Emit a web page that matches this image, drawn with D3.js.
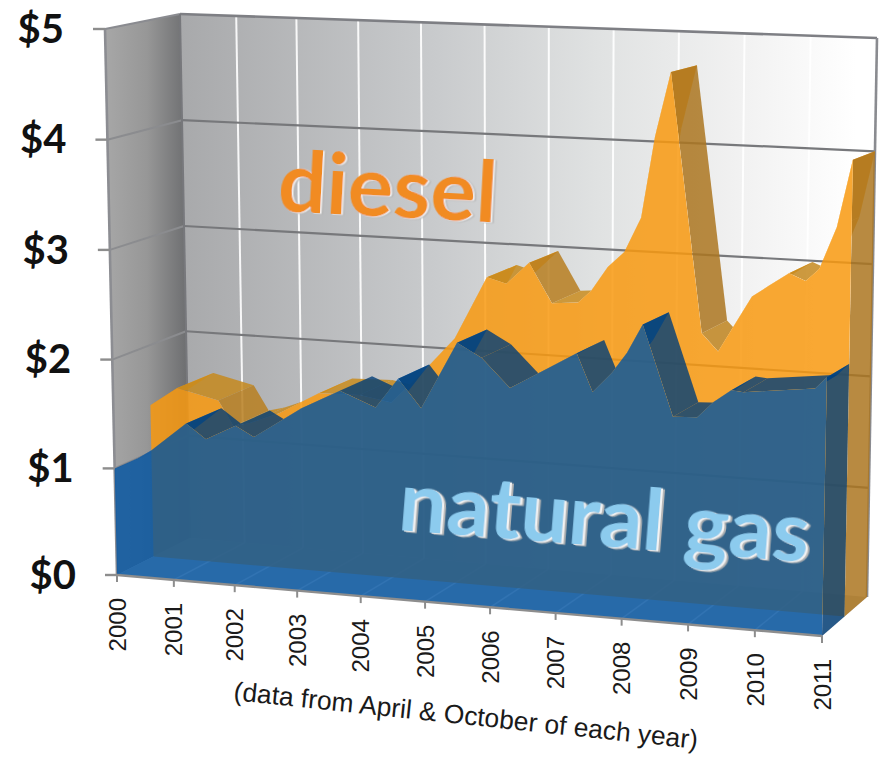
<!DOCTYPE html>
<html><head><meta charset="utf-8">
<script src="https://cdn.jsdelivr.net/npm/d3@7/dist/d3.min.js"></script>
<style>html,body{margin:0;padding:0;background:#fff}svg{display:block}</style>
</head><body><div id="chart"></div>
<script>
const yearTicks=[2000,2001,2002,2003,2004,2005,2006,2007,2008,2009,2010,2011];
const valueTicks=[0,1,2,3,4,5];
const dieselDates=[2000,2000.5,2001.2,2001.45,2001.72,2002.2,2002.85,2003.5,2004,2004.55,2005,2005.5,2005.8,2006.15,2006.5,2006.9,2007.1,2007.35,2007.6,2007.85,2008.05,2008.28,2008.78,2009.03,2009.53,2009.78,2010.08,2010.33,2010.53,2010.78,2011];
const dieselValues=[1.44,1.62,1.53,1.30,1.34,1.45,1.66,1.67,1.62,1.95,2.24,2.81,2.76,2.96,2.61,2.63,2.74,2.96,3.10,3.41,4.13,4.70,2.42,2.27,2.77,2.87,2.99,2.93,3.04,3.41,4.0];
const gasDates=[2000,2000.43,2000.66,2001.25,2001.57,2002.05,2002.34,2003.1,2003.7,2004.25,2004.6,2004.95,2005.5,2005.87,2006.3,2006.77,2007.3,2007.54,2007.83,2008.05,2008.28,2008.74,2009.1,2009.34,2009.6,2009.78,2010.83,2011];
const gasValues=[1.00,1.11,1.19,1.46,1.33,1.47,1.38,1.67,1.85,1.72,1.99,1.74,2.34,2.22,1.97,2.13,2.31,1.98,2.16,2.34,2.59,1.81,1.82,1.96,2.07,2.06,2.13,2.23];

const W=880,H=757;
const svg=d3.select('#chart').append('svg').attr('width',W).attr('height',H);
const defs=svg.append('defs');
const wallGrad=defs.append('linearGradient').attr('id','wall').attr('gradientUnits','userSpaceOnUse').attr('x1',180).attr('x2',877).attr('y1',0).attr('y2',0);
[[0,'#a8a9ab'],[.37,'#c9cbcd'],[.6,'#e0e2e2'],[.8,'#f1f1f1'],[.97,'#ffffff']].forEach(s=>wallGrad.append('stop').attr('offset',s[0]).attr('stop-color',s[1]));
const sideGrad=defs.append('linearGradient').attr('id','side').attr('gradientUnits','userSpaceOnUse').attr('x1',108).attr('x2',186).attr('y1',0).attr('y2',0);
[[0,'#a6a6a6'],[.5,'#979797'],[1,'#6e6f71']].forEach(s=>sideGrad.append('stop').attr('offset',s[0]).attr('stop-color',s[1]));
function bevel(id,dx,dy){
  const f=defs.append('filter').attr('id',id).attr('x','-5%').attr('y','-5%').attr('width','110%').attr('height','110%');
  f.append('feDropShadow').attr('in','SourceGraphic').attr('dx',dx*.5).attr('dy',dy*.5).attr('stdDeviation',0.2).attr('flood-color','#f4f4f4').attr('result','a');
  f.append('feDropShadow').attr('in','a').attr('dx',dx*.5).attr('dy',dy*.5).attr('stdDeviation',0.3).attr('flood-color','#b4b4b4');
}
bevel('bevelD',3,1);
bevel('bevelG',4,1.5);

// scales
const yearT=d3.scaleLinear().domain([2000,2011]).range([0,1]);
const persp=d3.scalePow().exponent(1.05).domain([0,1]).range([0,1]);
const valT=d3.scalePow().exponent(1.015).domain([0,5]).range([0,1]);
const fl0=d3.scaleLinear().domain([0,1]).range([[117,575],[105,29]]);
const fr0=d3.scaleLinear().domain([0,1]).range([[822,636],[833,49]]);
const bl0=d3.scaleLinear().domain([0,1]).range([[190,538],[180,14]]);
const br0=d3.scaleLinear().domain([0,1]).range([[867,597],[877,38]]);
function P(year,value,depth){
  const t=persp(yearT(year)),v=valT(value);
  const a=fl0(v),b=fr0(v),c=bl0(v),d=br0(v);
  const f=d3.interpolate(a,b)(t),k=d3.interpolate(c,d)(t);
  return d3.interpolate(f,k)(depth);
}
const Y0=2000,Y1=2011,V5=5;
const line=d3.line();
const poly=(pts,fill,op,parent)=>(parent||svg).append('path').attr('d',line(pts)+'Z').attr('fill',fill).attr('fill-opacity',op==null?1:op);
const seg=(a,b,col,w,op)=>svg.append('line').attr('x1',a[0]).attr('y1',a[1]).attr('x2',b[0]).attr('y2',b[1]).attr('stroke',col).attr('stroke-width',w).attr('stroke-opacity',op==null?1:op);

// walls and floor
poly([P(Y0,0,1),P(Y1,0,1),P(Y1,V5,1),P(Y0,V5,1)],'url(#wall)');
poly([P(Y0,0,0),P(Y0,0,1),P(Y0,V5,1),P(Y0,V5,0)],'url(#side)');
poly([P(Y0,0,0),P(Y1,0,0),P(Y1,0,1),P(Y0,0,1)],'#c4c6c8');
yearTicks.slice(1,-1).forEach(y=>{
  seg(P(y,0,1),P(y,V5,1),'#ffffff',2,.9);
  seg(P(y,0,0),P(y,0,1),'#ffffff',1.5,.8);
});
valueTicks.slice(1,-1).forEach(v=>{
  seg(P(Y0,v,1),P(Y1,v,1),'#77787b',2.2);
  seg(P(Y0,v,0),P(Y0,v,1),'#8b8c8f',2);
});
// frame behind the data
seg(P(Y0,V5,1),P(Y1,V5,1),'#7e7f84',2.6);
seg(P(Y1,V5,1),P(Y1,0,1),'#8a8b90',2.6);
seg(P(Y0,V5,0),P(Y0,V5,1),'#8a8b90',2.2);
seg(P(Y0,0,1),P(Y0,V5,1),'#77787c',2);
seg(P(Y0,0,0),P(Y0,V5,0),'#8c8d92',2.6);

function slab(id,dates,vals,d0,d1,front,frontOp,dark,soft,bright,surfOp){
  const last=dates.length-1;
  const top=dates.map((y,i)=>P(y,vals[i],d0));
  const face=[P(dates[0],0,d0),...top,P(dates[last],0,d0)];
  // the sides only show where the front face does not hide them
  const mask=defs.append('mask').attr('id',id).attr('maskUnits','userSpaceOnUse')
    .attr('x',0).attr('y',0).attr('width',W).attr('height',H);
  mask.append('rect').attr('width',W).attr('height',H).attr('fill','#fff');
  mask.append('path').attr('d',line(face)+'Z').attr('fill','#000');
  const g=svg.append('g').attr('mask',`url(#${id})`);
  const shade=d3.scaleLinear().domain([0,3]).range([soft,dark]).clamp(true);
  d3.pairs(d3.range(dates.length)).forEach(([i,j])=>{
    const q=[P(dates[i],vals[i],d0),P(dates[j],vals[j],d0),P(dates[j],vals[j],d1),P(dates[i],vals[i],d1)];
    const steep=Math.abs(q[1][1]-q[0][1])/Math.abs(q[1][0]-q[0][0]);
    poly(q,d3.polygonArea(q)>0?shade(steep):bright,surfOp,g);
  });
  poly([P(dates[last],0,d0),P(dates[last],0,d1),P(dates[last],vals[last],d1),P(dates[last],vals[last],d0)],dark,surfOp,g);
  poly(face,front,frontOp);
}
slab('maskD',dieselDates,dieselValues,.5,1,'#f8990f',.85,'#ab7520','#c98c1f','#f59a08',.85);
slab('maskG',gasDates,gasValues,0,.5,'#0052a1',.8,'#003d78','#003d78','#0a5cab',.8);

seg(P(Y0,0,0),P(Y1,0,0),'#8d8d8d',2.4);

// value axis
const fontBold='Lato, "Open Sans", sans-serif';
valueTicks.forEach(v=>{
  const p=P(Y0,v,0);
  seg([p[0]-12,p[1]],p,'#8d8d8d',2.4);
  svg.append('text').attr('x',p[0]-41).attr('y',p[1]).attr('dy','.34em').attr('text-anchor','end')
    .attr('font-family',fontBold).attr('font-weight',700).attr('font-size',40).attr('fill','#111').text('$'+v);
});
// year axis
yearTicks.forEach(y=>{
  const p=P(y,0,0);
  seg(p,[p[0],p[1]+7],'#8d8d8d',2);
  svg.append('text').attr('transform',`translate(${p[0]},${p[1]+23}) rotate(-90)`).attr('text-anchor','end').attr('dy','.36em')
    .attr('font-family','"Liberation Sans",Arial,sans-serif').attr('font-size',24).attr('fill','#1a1a1a').text(y);
});
svg.append('text').attr('transform','translate(233,700) rotate(6)')
  .attr('font-family','"Liberation Sans",Arial,sans-serif').attr('font-size',26.4).attr('fill','#1a1a1a')
  .text('(data from April & October of each year)');

svg.append('text').attr('transform','translate(277,211) rotate(3)')
  .attr('font-family',fontBold).attr('font-weight',700).attr('font-size',85).attr('fill','#f18b21').attr('filter','url(#bevelD)').text('diesel');
svg.append('text').attr('transform','translate(397,530) rotate(4.5)')
  .attr('font-family',fontBold).attr('font-weight',700).attr('font-size',85).attr('fill','#8ccbee').attr('filter','url(#bevelG)').text('natural gas');
</script></body></html>
